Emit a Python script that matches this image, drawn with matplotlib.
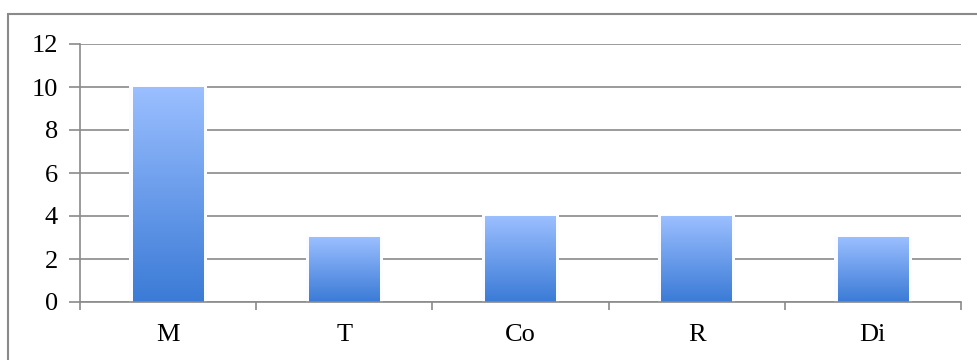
import numpy as np
import matplotlib
matplotlib.use("Agg")
import matplotlib.pyplot as plt
from matplotlib.colors import LinearSegmentedColormap
from matplotlib.patches import Rectangle

plt.rc('font', family='Liberation Serif')

categories = ["M", "T", "Co", "R", "Di"]
values = [10, 3, 4, 4, 3]
yticks = [0, 2, 4, 6, 8, 10, 12]

grey = "#8a8a8a"
grad = LinearSegmentedColormap.from_list("bar", ["#3b7bd6", "#6a9ceb", "#9bbfff"])

W, H = 978, 360
fig = plt.figure(figsize=(W / 100, H / 100), dpi=100)
ax = fig.add_axes([80 / W, (H - 302) / H, (961 - 80) / W, (302 - 44) / H])

# outer chart frame (runs off the right and bottom edges)
fig.patches.append(Rectangle((8 / W, -0.1), 1.2, (H - 14) / H + 0.1,
                             transform=fig.transFigure, fill=False,
                             edgecolor=grey, linewidth=1.5))

n = len(categories)
x = np.arange(n)
width = 0.4
ax.set_xlim(-0.5, n - 0.5)
ax.set_ylim(0, 12)

grad_img = np.linspace(0, 1, 256).reshape(-1, 1)
for xi, v in zip(x, values):
    # thin white halo behind each bar, breaks the gridlines a little
    ax.add_patch(Rectangle((xi - width / 2 - 0.02, 0), width + 0.04, v + 0.05,
                           facecolor="#fbfcff", edgecolor="none", zorder=2))
    ax.imshow(grad_img, cmap=grad, origin="lower", aspect="auto",
              extent=(xi - width / 2, xi + width / 2, 0, v), zorder=3)

ax.set_yticks(yticks)
ax.yaxis.grid(True, color=grey, linewidth=1.2, zorder=1)
ax.set_axisbelow(True)

ax.set_xticks(np.arange(n + 1) - 0.5)
ax.set_xticklabels([])
ax.set_xticks(x, minor=True)
ax.set_xticklabels(categories, minor=True)
ax.tick_params(axis="x", which="minor", length=0, pad=16, labelsize=19)
ax.tick_params(axis="x", which="major", length=6, width=1.2, color=grey, direction="out")
ax.tick_params(axis="y", length=8, width=1.2, color=grey, labelsize=19, pad=8)

for s in ["top", "right"]:
    ax.spines[s].set_visible(False)
for s in ["left", "bottom"]:
    ax.spines[s].set_color(grey)
    ax.spines[s].set_linewidth(1.2)
    ax.spines[s].set_zorder(4)

fig.savefig("out.png", dpi=100)
